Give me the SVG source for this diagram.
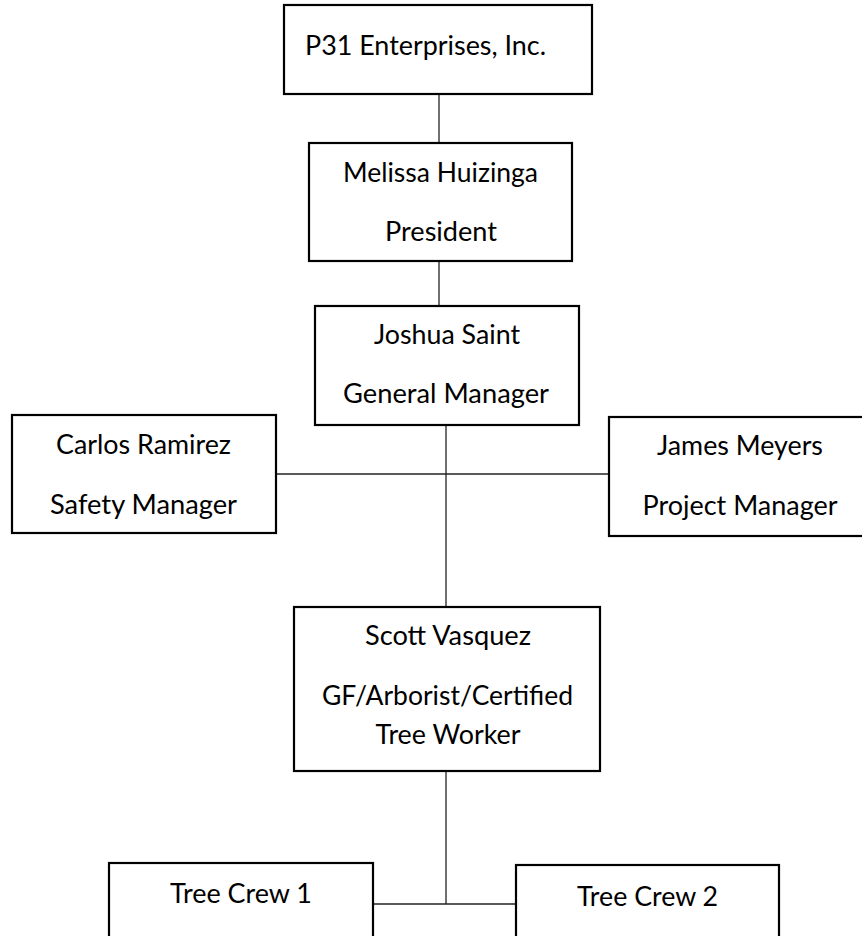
<svg xmlns="http://www.w3.org/2000/svg" width="862" height="936" viewBox="0 0 862 936">
<style>
.box{fill:#fff;stroke:#000;stroke-width:2.2}
.t{font-family:Lato,"Open Sans","Liberation Sans",sans-serif;font-size:26px;fill:#000;text-anchor:middle}
.c{stroke:#222;stroke-width:1.3;fill:none}
</style>
<rect width="862" height="936" fill="#fff"/>
<g id="connectors">
<line class="c" x1="439" y1="94" x2="439" y2="143"/>
<line class="c" x1="439" y1="261" x2="439" y2="306"/>
<line class="c" x1="446" y1="425" x2="446" y2="607"/>
<line class="c" x1="276" y1="474" x2="609" y2="474"/>
<line class="c" x1="446" y1="771" x2="446" y2="904"/>
<line class="c" x1="373" y1="904" x2="516" y2="904"/>
</g>
<g id="p31">
<rect class="box" x="284" y="5" width="308" height="89"/>
<text class="t" x="425.5" y="55" textLength="241" lengthAdjust="spacingAndGlyphs">P31 Enterprises, Inc.</text>
</g>
<g id="melissa">
<rect class="box" x="309" y="143" width="263" height="118"/>
<text class="t" x="440.5" y="182" textLength="195" lengthAdjust="spacingAndGlyphs">Melissa Huizinga</text>
<text class="t" x="441" y="241" textLength="112" lengthAdjust="spacingAndGlyphs">President</text>
</g>
<g id="joshua">
<rect class="box" x="315" y="306" width="264" height="119"/>
<text class="t" x="447" y="344" textLength="146" lengthAdjust="spacingAndGlyphs">Joshua Saint</text>
<text class="t" x="446" y="403" textLength="206" lengthAdjust="spacingAndGlyphs">General Manager</text>
</g>
<g id="carlos">
<rect class="box" x="12" y="415" width="264" height="118"/>
<text class="t" x="143.5" y="454" textLength="175" lengthAdjust="spacingAndGlyphs">Carlos Ramirez</text>
<text class="t" x="143.5" y="514" textLength="187" lengthAdjust="spacingAndGlyphs">Safety Manager</text>
</g>
<g id="james">
<rect class="box" x="609" y="417" width="262" height="119"/>
<text class="t" x="740" y="455" textLength="166" lengthAdjust="spacingAndGlyphs">James Meyers</text>
<text class="t" x="740" y="515" textLength="195" lengthAdjust="spacingAndGlyphs">Project Manager</text>
</g>
<g id="scott">
<rect class="box" x="294" y="607" width="306" height="164"/>
<text class="t" x="448" y="645" textLength="166" lengthAdjust="spacingAndGlyphs">Scott Vasquez</text>
<text class="t" x="447.5" y="705" textLength="251" lengthAdjust="spacingAndGlyphs">GF/Arborist/Certified</text>
<text class="t" x="448" y="744" textLength="145" lengthAdjust="spacingAndGlyphs">Tree Worker</text>
</g>
<g id="crew1">
<rect class="box" x="109" y="863" width="264" height="90"/>
<text class="t" x="241" y="903" textLength="142" lengthAdjust="spacingAndGlyphs">Tree Crew 1</text>
</g>
<g id="crew2">
<rect class="box" x="516" y="865" width="263" height="90"/>
<text class="t" x="647.5" y="906" textLength="141" lengthAdjust="spacingAndGlyphs">Tree Crew 2</text>
</g>
</svg>
